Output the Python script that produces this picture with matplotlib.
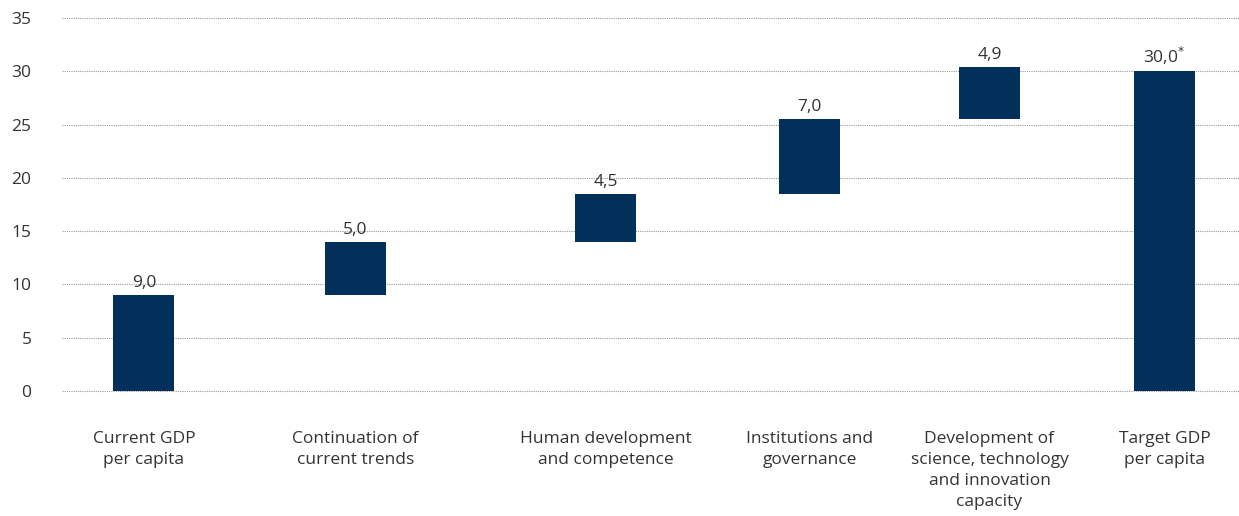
import matplotlib.pyplot as plt

categories = [
    "Current GDP\nper capita",
    "Continuation of\ncurrent trends",
    "Human development\nand competence",
    "Institutions and\ngovernance",
    "Development of\nscience, technology\nand innovation\ncapacity",
    "Target GDP\nper capita",
]
steps = [9.0, 5.0, 4.5, 7.0, 4.9]   # contributions, first one is the starting level
target = 30.0
value_labels = ["9,0", "5,0", "4,5", "7,0", "4,9", "30,0$^{*}$"]
yticks = [0, 5, 10, 15, 20, 25, 30, 35]

# horizontal slot of each column (axis units)
slot_x = [0.82, 2.935, 5.435, 7.475, 9.275, 11.025]

BAR = "#03305a"
TEXT = "#333333"
FS = 12.5

plt.rcParams['font.family'] = ['Open Sans', 'DejaVu Sans']

fig = plt.figure(figsize=(12.39, 5.16), dpi=100)
ax = fig.add_axes([0.05, 0.2422, 0.95, 0.7229])

# waterfall: floating bars for the steps, full bar for the target
bottoms = []
tops = []
level = 0.0
for s in steps:
    bottoms.append(level)
    level += s
    tops.append(level)
bottoms.append(0.0)
tops.append(target)
heights = [t - b for t, b in zip(tops, bottoms)]

ax.bar(slot_x, heights, bottom=bottoms, width=0.61, color=BAR, zorder=3)

for x, t, lab in zip(slot_x, tops, value_labels):
    ax.text(x, t + 0.4, lab, ha='center', va='bottom', fontsize=FS, color=TEXT)

ax.set_xlim(0, 11.77)
ax.set_ylim(0, 35)
ax.set_yticks(yticks)
ax.set_yticklabels([str(v) for v in yticks], fontsize=FS, color=TEXT)
ax.set_xticks(slot_x)
ax.set_xticklabels(categories, fontsize=FS, color=TEXT, linespacing=1.4, va='top')
ax.tick_params(axis='y', length=0, pad=22)
ax.tick_params(axis='x', length=0, pad=29)

ax.grid(axis='y', linestyle=(0, (1, 1)), color='#9a9a9a', linewidth=0.8, zorder=0)
ax.set_axisbelow(True)
for sp in ax.spines.values():
    sp.set_visible(False)
# the 0 gridline is clipped at the bottom edge otherwise
for gl in ax.get_ygridlines():
    gl.set_clip_on(False)

fig.savefig("out.png", dpi=100)
